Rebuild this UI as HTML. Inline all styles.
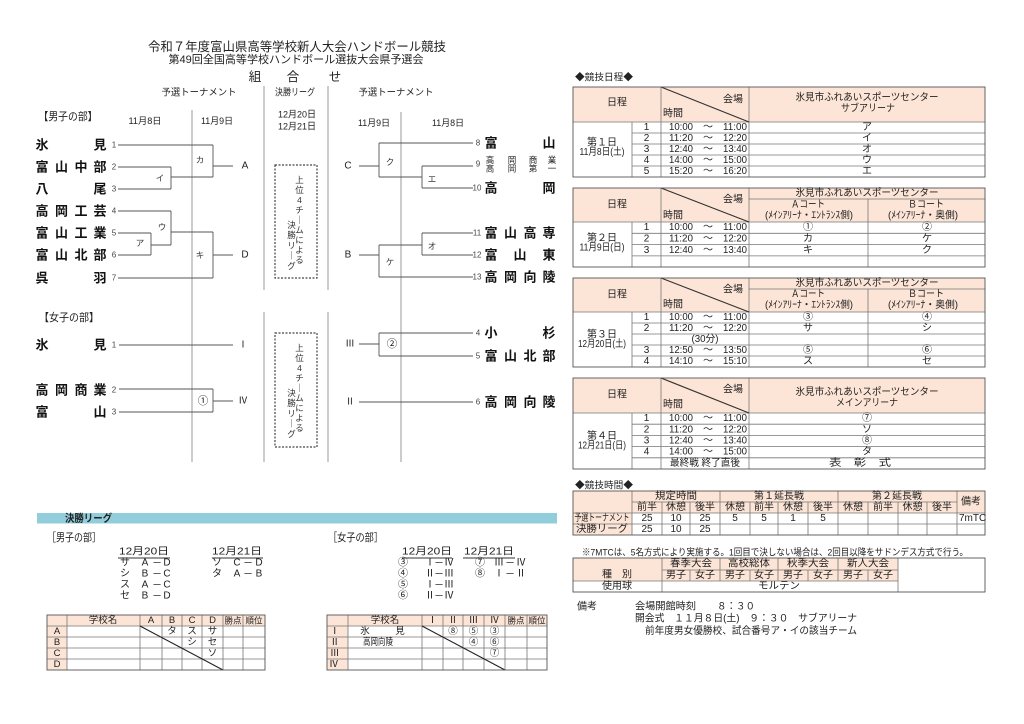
<!DOCTYPE html>
<html lang="ja">
<head>
<meta charset="utf-8">
<style>
html,body{margin:0;padding:0;background:#fff;}
svg{display:block;}
svg text{font-family:"Liberation Sans","Noto Sans CJK JP",sans-serif;text-anchor:middle;dominant-baseline:central;fill:#222;}
.s{text-anchor:start}
.e{text-anchor:end}
.b{font-weight:bold}
.tm text{font-size:13px;font-weight:bold;fill:#111}
.n text{font-size:8px;fill:#444}
.lb text{font-size:8.5px;fill:#333}
.br line{stroke:#555;stroke-width:0.9}
.vl line{stroke:#9a9a9a;stroke-width:1}
.tb text{font-size:10px}
.g line{stroke:#777;stroke-width:0.8}
.o{fill:none;stroke:#555;stroke-width:0.9}
.vt text{font-size:8.5px;fill:#333}
</style>
</head>
<body>
<svg width="1024" height="724" viewBox="0 0 1024 724" xmlns="http://www.w3.org/2000/svg">
<rect width="1024" height="724" fill="#fff"/>

<!-- Header -->
<text x="297" y="47" font-size="12.5" textLength="298" lengthAdjust="spacingAndGlyphs">令和７年度富山県高等学校新人大会ハンドボール競技</text>
<text x="296" y="60" font-size="11" textLength="255" lengthAdjust="spacingAndGlyphs">第49回全国高等学校ハンドボール選抜大会県予選会</text>
<text x="255" y="77" font-size="12.5">組</text>
<text x="293" y="77" font-size="12.5">合</text>
<text x="335" y="77" font-size="12.5">せ</text>
<text x="199" y="93" font-size="9.5" textLength="75" lengthAdjust="spacingAndGlyphs">予選トーナメント</text>
<text x="295" y="93" font-size="9.5" textLength="40" lengthAdjust="spacingAndGlyphs">決勝リーグ</text>
<text x="396" y="93" font-size="9.5" textLength="75" lengthAdjust="spacingAndGlyphs">予選トーナメント</text>

<!-- vertical separators -->
<g class="vl">
<line x1="264" y1="86" x2="264" y2="290"/>
<line x1="328" y1="86" x2="328" y2="290"/>
<line x1="264" y1="312" x2="264" y2="462"/>
<line x1="328" y1="312" x2="328" y2="462"/>
<line x1="192" y1="110" x2="192" y2="462"/>
<line x1="401" y1="112" x2="401" y2="462"/>
</g>

<!-- Men's labels -->
<text x="68" y="117" font-size="11" textLength="59" lengthAdjust="spacingAndGlyphs">【男子の部】</text>
<text x="145" y="121" font-size="9" textLength="33" lengthAdjust="spacingAndGlyphs">11月8日</text>
<text x="217" y="121" font-size="9" textLength="32" lengthAdjust="spacingAndGlyphs">11月9日</text>
<text x="297" y="115" font-size="9.5" textLength="38" lengthAdjust="spacingAndGlyphs">12月20日</text>
<text x="297" y="127" font-size="9.5" textLength="38" lengthAdjust="spacingAndGlyphs">12月21日</text>
<text x="374" y="123" font-size="9" textLength="32" lengthAdjust="spacingAndGlyphs">11月9日</text>
<text x="448" y="123" font-size="9" textLength="32" lengthAdjust="spacingAndGlyphs">11月8日</text>

<!-- Men's left teams -->
<g class="tm">
<text x="42" y="145">氷</text><text x="100" y="145">見</text>
<text x="42" y="167">富</text><text x="61.5" y="167">山</text><text x="81" y="167">中</text><text x="100" y="167">部</text>
<text x="42" y="189">八</text><text x="100" y="189">尾</text>
<text x="42" y="211">高</text><text x="61.5" y="211">岡</text><text x="81" y="211">工</text><text x="100" y="211">芸</text>
<text x="42" y="233">富</text><text x="61.5" y="233">山</text><text x="81" y="233">工</text><text x="100" y="233">業</text>
<text x="42" y="255">富</text><text x="61.5" y="255">山</text><text x="81" y="255">北</text><text x="100" y="255">部</text>
<text x="42" y="278">呉</text><text x="100" y="278">羽</text>
</g>
<g class="n">
<text x="114" y="145">1</text><text x="114" y="167">2</text><text x="114" y="189">3</text><text x="114" y="211">4</text>
<text x="114" y="233">5</text><text x="114" y="255">6</text><text x="114" y="278">7</text>
</g>
<g class="br">
<line x1="118" y1="145" x2="213" y2="145"/>
<line x1="118" y1="167" x2="171" y2="167"/>
<line x1="118" y1="189" x2="171" y2="189"/>
<line x1="171" y1="167" x2="171" y2="189"/>
<line x1="171" y1="177" x2="213" y2="177"/>
<line x1="213" y1="145" x2="213" y2="177"/>
<line x1="213" y1="166" x2="233" y2="166"/>
<line x1="118" y1="211" x2="171" y2="211"/>
<line x1="118" y1="233" x2="151" y2="233"/>
<line x1="118" y1="255" x2="151" y2="255"/>
<line x1="151" y1="233" x2="151" y2="255"/>
<line x1="151" y1="245" x2="171" y2="245"/>
<line x1="171" y1="211" x2="171" y2="245"/>
<line x1="171" y1="232" x2="213" y2="232"/>
<line x1="118" y1="278" x2="213" y2="278"/>
<line x1="213" y1="232" x2="213" y2="278"/>
<line x1="213" y1="255" x2="233" y2="255"/>
</g>
<g class="lb">
<text x="200" y="160">カ</text><text x="160" y="178">イ</text>
<text x="162" y="227">ウ</text><text x="140" y="243">ア</text><text x="200" y="255">キ</text>
</g>
<text x="245" y="166" font-size="10">A</text>
<text x="245" y="255" font-size="10">D</text>

<!-- Men's right -->
<g class="br">
<line x1="379" y1="143" x2="473" y2="143"/>
<line x1="422" y1="166" x2="473" y2="166"/>
<line x1="422" y1="188" x2="473" y2="188"/>
<line x1="422" y1="166" x2="422" y2="188"/>
<line x1="379" y1="177" x2="422" y2="177"/>
<line x1="379" y1="143" x2="379" y2="177"/>
<line x1="359" y1="166" x2="379" y2="166"/>
<line x1="422" y1="233" x2="473" y2="233"/>
<line x1="422" y1="255" x2="473" y2="255"/>
<line x1="422" y1="233" x2="422" y2="255"/>
<line x1="379" y1="245" x2="422" y2="245"/>
<line x1="379" y1="245" x2="379" y2="277"/>
<line x1="379" y1="277" x2="473" y2="277"/>
<line x1="359" y1="255" x2="379" y2="255"/>
</g>
<g class="lb">
<text x="390" y="162">ク</text><text x="432" y="179">エ</text>
<text x="432" y="246">オ</text><text x="390" y="262">ケ</text>
</g>
<text x="348" y="166" font-size="10">C</text>
<text x="348" y="255" font-size="10">B</text>
<g class="n">
<text x="478" y="143">8</text><text x="478" y="164">9</text><text x="477" y="188">10</text>
<text x="477" y="233">11</text><text x="477" y="255">12</text><text x="477" y="277">13</text>
</g>
<g class="tm">
<text x="491" y="143">富</text><text x="549" y="143">山</text>
<text x="491" y="188">高</text><text x="549" y="188">岡</text>
<text x="491" y="233">富</text><text x="510.5" y="233">山</text><text x="530" y="233">高</text><text x="549" y="233">専</text>
<text x="491" y="255">富</text><text x="520" y="255">山</text><text x="549" y="255">東</text>
<text x="491" y="277">高</text><text x="510.5" y="277">岡</text><text x="530" y="277">向</text><text x="549" y="277">陵</text>
</g>
<g font-size="8.5">
<text x="490" y="160">高</text><text x="512" y="160">岡</text><text x="533" y="160">商</text><text x="552" y="160">業</text>
<text x="490" y="168.5">高</text><text x="512" y="168.5">岡</text><text x="533" y="168.5">第</text><text x="552" y="168.5">一</text>
</g>

<!-- Dashed boxes -->
<rect x="275" y="165" width="42" height="113" fill="none" stroke="#444" stroke-width="1.2" stroke-dasharray="2,1.5"/>
<rect x="275" y="333" width="42" height="114" fill="none" stroke="#444" stroke-width="1.2" stroke-dasharray="2,1.5"/>
<g class="vt">
<text x="299.5" y="180">上</text><text x="299.5" y="190">位</text><text x="299.5" y="200">4</text><text x="299.5" y="210">チ</text><text x="299.5" y="220">｜</text><text x="299.5" y="230">ム</text><text x="299.5" y="240">に</text><text x="299.5" y="250">よ</text><text x="299.5" y="260">る</text>
<text x="291.5" y="225">決</text><text x="291.5" y="235">勝</text><text x="291.5" y="245.5">リ</text><text x="291.5" y="255.5">｜</text><text x="291.5" y="266">グ</text>
<text x="299.5" y="348">上</text><text x="299.5" y="358">位</text><text x="299.5" y="368">4</text><text x="299.5" y="378">チ</text><text x="299.5" y="388">｜</text><text x="299.5" y="398">ム</text><text x="299.5" y="408">に</text><text x="299.5" y="418">よ</text><text x="299.5" y="428">る</text>
<text x="291.5" y="393">決</text><text x="291.5" y="403">勝</text><text x="291.5" y="413.5">リ</text><text x="291.5" y="423.5">｜</text><text x="291.5" y="434">グ</text>
</g>

<!-- Women's -->
<text x="69" y="318" font-size="11" textLength="60" lengthAdjust="spacingAndGlyphs">【女子の部】</text>
<g class="tm">
<text x="42" y="345">氷</text><text x="100" y="345">見</text>
<text x="42" y="390">高</text><text x="61.5" y="390">岡</text><text x="81" y="390">商</text><text x="100" y="390">業</text>
<text x="42" y="412">富</text><text x="100" y="412">山</text>
<text x="491" y="333">小</text><text x="549" y="333">杉</text>
<text x="491" y="356">富</text><text x="510.5" y="356">山</text><text x="530" y="356">北</text><text x="549" y="356">部</text>
<text x="491" y="402">高</text><text x="510.5" y="402">岡</text><text x="530" y="402">向</text><text x="549" y="402">陵</text>
</g>
<g class="n">
<text x="114" y="345">1</text><text x="114" y="390">2</text><text x="114" y="412">3</text>
<text x="478" y="333">4</text><text x="478" y="356">5</text><text x="478" y="402">6</text>
</g>
<g class="br">
<line x1="119" y1="345" x2="233" y2="345"/>
<line x1="119" y1="389" x2="213" y2="389"/>
<line x1="119" y1="412" x2="213" y2="412"/>
<line x1="213" y1="389" x2="213" y2="412"/>
<line x1="213" y1="401" x2="233" y2="401"/>
<line x1="359" y1="344" x2="379" y2="344"/>
<line x1="379" y1="333" x2="379" y2="356"/>
<line x1="379" y1="333" x2="473" y2="333"/>
<line x1="379" y1="356" x2="473" y2="356"/>
<line x1="359" y1="402" x2="473" y2="402"/>
</g>
<text x="203" y="401" font-size="10.5">①</text>
<text x="392" y="344" font-size="10.5">②</text>
<text x="243" y="345" font-size="9.5">Ⅰ</text>
<text x="243" y="401" font-size="9.5">Ⅳ</text>
<text x="350" y="344" font-size="9.5">Ⅲ</text>
<text x="350" y="402" font-size="9.5">Ⅱ</text>

<!-- ===== Right side schedule ===== -->
<text class="s" x="575" y="78" font-size="9.5" textLength="58" lengthAdjust="spacingAndGlyphs">◆競技日程◆</text>

<!-- Table 1 -->
<rect x="573" y="87" width="412" height="35" fill="#fce4d6"/>
<g class="g">
<line x1="573" y1="122" x2="985" y2="122"/>
<line x1="661" y1="87" x2="661" y2="177"/>
<line x1="749" y1="87" x2="749" y2="177"/>
<line x1="632" y1="122" x2="632" y2="177"/>
<line x1="632" y1="133" x2="985" y2="133"/>
<line x1="632" y1="144" x2="985" y2="144"/>
<line x1="632" y1="155" x2="985" y2="155"/>
<line x1="632" y1="166" x2="985" y2="166"/>
</g>
<line x1="661" y1="87" x2="749" y2="122" stroke="#333" stroke-width="1.2"/>
<rect class="o" x="573" y="87" width="412" height="90"/>
<g class="tb">
<text x="617" y="103">日程</text>
<text x="733" y="100">会場</text>
<text class="s" x="663" y="114">時間</text>
<text x="867" y="98" textLength="143" lengthAdjust="spacingAndGlyphs">氷見市ふれあいスポーツセンター</text>
<text x="868" y="109" textLength="54" lengthAdjust="spacingAndGlyphs">サブアリーナ</text>
<text x="602" y="143" font-size="8.5">第１日</text>
<text x="602" y="152.5" font-size="9" textLength="45" lengthAdjust="spacingAndGlyphs">11月8日(土)</text>
<text x="646.5" y="127.5">1</text><text class="s" x="669" y="127.5" textLength="24" lengthAdjust="spacingAndGlyphs">10:00</text><text x="708" y="127.5" font-size="9">～</text><text class="e" x="747" y="127.5" textLength="24" lengthAdjust="spacingAndGlyphs">11:00</text><text x="867" y="127.5">ア</text>
<text x="646.5" y="138.5">2</text><text class="s" x="669" y="138.5" textLength="24" lengthAdjust="spacingAndGlyphs">11:20</text><text x="708" y="138.5" font-size="9">～</text><text class="e" x="747" y="138.5" textLength="24" lengthAdjust="spacingAndGlyphs">12:20</text><text x="867" y="138.5">イ</text>
<text x="646.5" y="149.5">3</text><text class="s" x="669" y="149.5" textLength="24" lengthAdjust="spacingAndGlyphs">12:40</text><text x="708" y="149.5" font-size="9">～</text><text class="e" x="747" y="149.5" textLength="24" lengthAdjust="spacingAndGlyphs">13:40</text><text x="867" y="149.5">オ</text>
<text x="646.5" y="160.5">4</text><text class="s" x="669" y="160.5" textLength="24" lengthAdjust="spacingAndGlyphs">14:00</text><text x="708" y="160.5" font-size="9">～</text><text class="e" x="747" y="160.5" textLength="24" lengthAdjust="spacingAndGlyphs">15:00</text><text x="867" y="160.5">ウ</text>
<text x="646.5" y="171.5">5</text><text class="s" x="669" y="171.5" textLength="24" lengthAdjust="spacingAndGlyphs">15:20</text><text x="708" y="171.5" font-size="9">～</text><text class="e" x="747" y="171.5" textLength="24" lengthAdjust="spacingAndGlyphs">16:20</text><text x="867" y="171.5">エ</text>
</g>

<!-- Table 2 -->
<rect x="573" y="188" width="412" height="34" fill="#fce4d6"/>
<g class="g">
<line x1="749" y1="199" x2="985" y2="199"/>
<line x1="573" y1="222" x2="985" y2="222"/>
<line x1="661" y1="188" x2="661" y2="267"/>
<line x1="749" y1="188" x2="749" y2="267"/>
<line x1="632" y1="222" x2="632" y2="267"/>
<line x1="868" y1="199" x2="868" y2="267"/>
<line x1="632" y1="233.3" x2="985" y2="233.3"/>
<line x1="632" y1="244.6" x2="985" y2="244.6"/>
<line x1="632" y1="255.9" x2="985" y2="255.9"/>
</g>
<line x1="661" y1="188" x2="749" y2="222" stroke="#333" stroke-width="1.2"/>
<rect class="o" x="573" y="188" width="412" height="79"/>
<g class="tb">
<text x="617" y="205">日程</text>
<text x="733" y="200">会場</text>
<text class="s" x="663" y="216">時間</text>
<text x="867" y="193.5" textLength="143" lengthAdjust="spacingAndGlyphs">氷見市ふれあいスポーツセンター</text>
<text x="808" y="205" textLength="34" lengthAdjust="spacingAndGlyphs">Ａコート</text>
<text x="809" y="216" font-size="7.5" textLength="88" lengthAdjust="spacingAndGlyphs">(ﾒｲﾝｱﾘｰﾅ・ｴﾝﾄﾗﾝｽ側)</text>
<text x="926" y="205" textLength="36" lengthAdjust="spacingAndGlyphs">Ｂコート</text>
<text x="923" y="216" font-size="7.5" textLength="70" lengthAdjust="spacingAndGlyphs">(ﾒｲﾝｱﾘｰﾅ・奥側)</text>
<text x="602" y="238.5" font-size="8.5">第２日</text>
<text x="602" y="248" font-size="9" textLength="45" lengthAdjust="spacingAndGlyphs">11月9日(日)</text>
<text x="646.5" y="227.6">1</text><text class="s" x="669" y="227.6" textLength="24" lengthAdjust="spacingAndGlyphs">10:00</text><text x="708" y="227.6" font-size="9">～</text><text class="e" x="747" y="227.6" textLength="24" lengthAdjust="spacingAndGlyphs">11:00</text><text x="808" y="227.6">①</text><text x="927" y="227.6">②</text>
<text x="646.5" y="239">2</text><text class="s" x="669" y="239" textLength="24" lengthAdjust="spacingAndGlyphs">11:20</text><text x="708" y="239" font-size="9">～</text><text class="e" x="747" y="239" textLength="24" lengthAdjust="spacingAndGlyphs">12:20</text><text x="808" y="239">カ</text><text x="927" y="239">ケ</text>
<text x="646.5" y="250.3">3</text><text class="s" x="669" y="250.3" textLength="24" lengthAdjust="spacingAndGlyphs">12:40</text><text x="708" y="250.3" font-size="9">～</text><text class="e" x="747" y="250.3" textLength="24" lengthAdjust="spacingAndGlyphs">13:40</text><text x="808" y="250.3">キ</text><text x="927" y="250.3">ク</text>
</g>

<!-- Table 3 -->
<rect x="573" y="278" width="412" height="34" fill="#fce4d6"/>
<g class="g">
<line x1="749" y1="289" x2="985" y2="289"/>
<line x1="573" y1="312" x2="985" y2="312"/>
<line x1="661" y1="278" x2="661" y2="367"/>
<line x1="749" y1="278" x2="749" y2="367"/>
<line x1="632" y1="312" x2="632" y2="367"/>
<line x1="868" y1="289" x2="868" y2="367"/>
<line x1="632" y1="323" x2="985" y2="323"/>
<line x1="632" y1="334" x2="985" y2="334"/>
<line x1="632" y1="345" x2="985" y2="345"/>
<line x1="632" y1="356" x2="985" y2="356"/>
</g>
<line x1="661" y1="278" x2="749" y2="312" stroke="#333" stroke-width="1.2"/>
<rect class="o" x="573" y="278" width="412" height="89"/>
<g class="tb">
<text x="617" y="295">日程</text>
<text x="733" y="290">会場</text>
<text class="s" x="663" y="305">時間</text>
<text x="867" y="283.5" textLength="143" lengthAdjust="spacingAndGlyphs">氷見市ふれあいスポーツセンター</text>
<text x="808" y="294.5" textLength="34" lengthAdjust="spacingAndGlyphs">Ａコート</text>
<text x="809" y="305.5" font-size="7.5" textLength="88" lengthAdjust="spacingAndGlyphs">(ﾒｲﾝｱﾘｰﾅ・ｴﾝﾄﾗﾝｽ側)</text>
<text x="926" y="294.5" textLength="36" lengthAdjust="spacingAndGlyphs">Ｂコート</text>
<text x="923" y="305.5" font-size="7.5" textLength="70" lengthAdjust="spacingAndGlyphs">(ﾒｲﾝｱﾘｰﾅ・奥側)</text>
<text x="602" y="335" font-size="8.5">第３日</text>
<text x="602" y="344.5" font-size="9" textLength="48" lengthAdjust="spacingAndGlyphs">12月20日(土)</text>
<text x="646.5" y="317.5">1</text><text class="s" x="669" y="317.5" textLength="24" lengthAdjust="spacingAndGlyphs">10:00</text><text x="708" y="317.5" font-size="9">～</text><text class="e" x="747" y="317.5" textLength="24" lengthAdjust="spacingAndGlyphs">11:00</text><text x="808" y="317.5">③</text><text x="927" y="317.5">④</text>
<text x="646.5" y="328.5">2</text><text class="s" x="669" y="328.5" textLength="24" lengthAdjust="spacingAndGlyphs">11:20</text><text x="708" y="328.5" font-size="9">～</text><text class="e" x="747" y="328.5" textLength="24" lengthAdjust="spacingAndGlyphs">12:20</text><text x="808" y="328.5">サ</text><text x="927" y="328.5">シ</text>
<text x="705" y="339.5" textLength="27" lengthAdjust="spacingAndGlyphs">(30分)</text>
<text x="646.5" y="350.5">3</text><text class="s" x="669" y="350.5" textLength="24" lengthAdjust="spacingAndGlyphs">12:50</text><text x="708" y="350.5" font-size="9">～</text><text class="e" x="747" y="350.5" textLength="24" lengthAdjust="spacingAndGlyphs">13:50</text><text x="808" y="350.5">⑤</text><text x="927" y="350.5">⑥</text>
<text x="646.5" y="361.5">4</text><text class="s" x="669" y="361.5" textLength="24" lengthAdjust="spacingAndGlyphs">14:10</text><text x="708" y="361.5" font-size="9">～</text><text class="e" x="747" y="361.5" textLength="24" lengthAdjust="spacingAndGlyphs">15:10</text><text x="808" y="361.5">ス</text><text x="927" y="361.5">セ</text>
</g>

<!-- Table 4 -->
<rect x="573" y="378" width="412" height="35" fill="#fce4d6"/>
<g class="g">
<line x1="573" y1="413" x2="985" y2="413"/>
<line x1="661" y1="378" x2="661" y2="469"/>
<line x1="749" y1="378" x2="749" y2="469"/>
<line x1="632" y1="413" x2="632" y2="469"/>
<line x1="632" y1="424.2" x2="985" y2="424.2"/>
<line x1="632" y1="435.4" x2="985" y2="435.4"/>
<line x1="632" y1="446.6" x2="985" y2="446.6"/>
<line x1="632" y1="457.8" x2="985" y2="457.8"/>
</g>
<line x1="661" y1="378" x2="749" y2="413" stroke="#333" stroke-width="1.2"/>
<rect class="o" x="573" y="378" width="412" height="91"/>
<g class="tb">
<text x="617" y="395">日程</text>
<text x="733" y="390">会場</text>
<text class="s" x="663" y="405">時間</text>
<text x="867" y="392.5" textLength="143" lengthAdjust="spacingAndGlyphs">氷見市ふれあいスポーツセンター</text>
<text x="867" y="403.5" textLength="62" lengthAdjust="spacingAndGlyphs">メインアリーナ</text>
<text x="602" y="436.5" font-size="8.5">第４日</text>
<text x="602" y="446" font-size="9" textLength="48" lengthAdjust="spacingAndGlyphs">12月21日(日)</text>
<text x="646.5" y="418.6">1</text><text class="s" x="669" y="418.6" textLength="24" lengthAdjust="spacingAndGlyphs">10:00</text><text x="708" y="418.6" font-size="9">～</text><text class="e" x="747" y="418.6" textLength="24" lengthAdjust="spacingAndGlyphs">11:00</text><text x="867" y="418.6">⑦</text>
<text x="646.5" y="429.8">2</text><text class="s" x="669" y="429.8" textLength="24" lengthAdjust="spacingAndGlyphs">11:20</text><text x="708" y="429.8" font-size="9">～</text><text class="e" x="747" y="429.8" textLength="24" lengthAdjust="spacingAndGlyphs">12:20</text><text x="867" y="429.8">ソ</text>
<text x="646.5" y="441">3</text><text class="s" x="669" y="441" textLength="24" lengthAdjust="spacingAndGlyphs">12:40</text><text x="708" y="441" font-size="9">～</text><text class="e" x="747" y="441" textLength="24" lengthAdjust="spacingAndGlyphs">13:40</text><text x="867" y="441">⑧</text>
<text x="646.5" y="452.2">4</text><text class="s" x="669" y="452.2" textLength="24" lengthAdjust="spacingAndGlyphs">14:00</text><text x="708" y="452.2" font-size="9">～</text><text class="e" x="747" y="452.2" textLength="24" lengthAdjust="spacingAndGlyphs">15:00</text><text x="867" y="452.2">タ</text>
<text x="705" y="463.4" textLength="70" lengthAdjust="spacingAndGlyphs">最終戦 終了直後</text>
<text x="860" y="463.4" textLength="62" lengthAdjust="spacingAndGlyphs">表　彰　式</text>
</g>

<!-- 競技時間 -->
<text class="s" x="575" y="486" font-size="9.5" textLength="58" lengthAdjust="spacingAndGlyphs">◆競技時間◆</text>
<rect x="573" y="491" width="412" height="22" fill="#fce4d6"/>
<rect x="573" y="513" width="59" height="22" fill="#fce4d6"/>
<g class="g">
<line x1="632" y1="502" x2="957" y2="502"/>
<line x1="573" y1="513" x2="985" y2="513"/>
<line x1="573" y1="524" x2="985" y2="524"/>
<line x1="632" y1="491" x2="632" y2="535"/>
<line x1="720" y1="491" x2="720" y2="535"/>
<line x1="838" y1="491" x2="838" y2="535"/>
<line x1="957" y1="491" x2="957" y2="535"/>
<line x1="662" y1="502" x2="662" y2="535"/>
<line x1="690" y1="502" x2="690" y2="535"/>
<line x1="750" y1="502" x2="750" y2="535"/>
<line x1="778" y1="502" x2="778" y2="535"/>
<line x1="808" y1="502" x2="808" y2="535"/>
<line x1="868" y1="502" x2="868" y2="535"/>
<line x1="898" y1="502" x2="898" y2="535"/>
<line x1="927" y1="502" x2="927" y2="535"/>
</g>
<rect class="o" x="573" y="491" width="412" height="44"/>
<g class="tb">
<text x="676" y="496.5" textLength="42" lengthAdjust="spacingAndGlyphs">規定時間</text>
<text x="779" y="496.5" textLength="50" lengthAdjust="spacingAndGlyphs">第１延長戦</text>
<text x="897" y="496.5" textLength="50" lengthAdjust="spacingAndGlyphs">第２延長戦</text>
<text x="971" y="502" font-size="8">備考</text>
<text x="647" y="507.5">前半</text><text x="676" y="507.5">休憩</text><text x="705" y="507.5">後半</text>
<text x="735" y="507.5">休憩</text><text x="764" y="507.5">前半</text><text x="793" y="507.5">休憩</text><text x="823" y="507.5">後半</text>
<text x="853" y="507.5">休憩</text><text x="883" y="507.5">前半</text><text x="912.5" y="507.5">休憩</text><text x="942" y="507.5">後半</text>
<text x="602" y="518.5" font-size="7" textLength="55" lengthAdjust="spacingAndGlyphs">予選トーナメント</text>
<text x="647" y="518.5">25</text><text x="676" y="518.5">10</text><text x="705" y="518.5">25</text>
<text x="735" y="518.5">5</text><text x="764" y="518.5">5</text><text x="793" y="518.5">1</text><text x="823" y="518.5">5</text>
<text class="s" x="959" y="518.5" font-size="7">7mTC</text>
<text x="602" y="529.5" font-size="11" textLength="52" lengthAdjust="spacingAndGlyphs">決勝リーグ</text>
<text x="647" y="529.5">25</text><text x="676" y="529.5">10</text><text x="705" y="529.5">25</text>
</g>

<text class="s" x="582" y="553" font-size="9.5" textLength="386" lengthAdjust="spacingAndGlyphs">※7MTCは、5名方式により実施する。1回目で決しない場合は、2回目以降をサドンデス方式で行う。</text>

<!-- 種別 table -->
<rect x="573" y="558" width="325" height="23" fill="#fce4d6"/>
<g class="g">
<line x1="662" y1="570" x2="898" y2="570"/>
<line x1="573" y1="581" x2="898" y2="581"/>
<line x1="662" y1="558" x2="662" y2="592"/>
<line x1="720" y1="558" x2="720" y2="581"/>
<line x1="778" y1="558" x2="778" y2="581"/>
<line x1="838" y1="558" x2="838" y2="581"/>
<line x1="898" y1="558" x2="898" y2="592"/>
<line x1="690" y1="570" x2="690" y2="581"/>
<line x1="750" y1="570" x2="750" y2="581"/>
<line x1="808" y1="570" x2="808" y2="581"/>
<line x1="868" y1="570" x2="868" y2="581"/>
</g>
<rect class="o" x="573" y="558" width="412" height="34"/>
<g class="tb">
<text x="617" y="575">種　別</text>
<text x="691" y="564" textLength="42" lengthAdjust="spacingAndGlyphs">春季大会</text>
<text x="749" y="564" textLength="42" lengthAdjust="spacingAndGlyphs">高校総体</text>
<text x="808" y="564" textLength="42" lengthAdjust="spacingAndGlyphs">秋季大会</text>
<text x="868" y="564" textLength="42" lengthAdjust="spacingAndGlyphs">新人大会</text>
<text x="676" y="575.5">男子</text><text x="705" y="575.5">女子</text>
<text x="735" y="575.5">男子</text><text x="764" y="575.5">女子</text>
<text x="793" y="575.5">男子</text><text x="823" y="575.5">女子</text>
<text x="853" y="575.5">男子</text><text x="883" y="575.5">女子</text>
<text x="617" y="586.5">使用球</text>
<text x="779" y="586.5" textLength="42" lengthAdjust="spacingAndGlyphs">モルテン</text>
</g>

<!-- 備考 -->
<g font-size="10">
<text class="s" x="577" y="607">備考</text>
<text class="s" x="635" y="607" textLength="61" lengthAdjust="spacingAndGlyphs">会場開館時刻</text>
<text class="s" x="717" y="607" textLength="38" lengthAdjust="spacingAndGlyphs">８：３０</text>
<text class="s" x="635" y="619" textLength="222" lengthAdjust="spacingAndGlyphs">開会式　１１月８日(土)　９：３０　サブアリーナ</text>
<text class="s" x="645" y="631.5" textLength="212" lengthAdjust="spacingAndGlyphs">前年度男女優勝校、試合番号ア・イの該当チーム</text>
</g>

<!-- ===== Bottom-left league ===== -->
<rect x="37" y="513" width="520" height="10.5" fill="#92cddc"/>
<text class="s b" x="65" y="518.3" font-size="10.5" textLength="47" lengthAdjust="spacingAndGlyphs">決勝リーグ</text>

<text class="s" x="47" y="538" font-size="11" textLength="54" lengthAdjust="spacingAndGlyphs">［男子の部］</text>
<text class="s" x="328" y="538" font-size="11" textLength="55" lengthAdjust="spacingAndGlyphs">［女子の部］</text>

<g font-size="10">
<text x="144" y="552" textLength="50" lengthAdjust="spacingAndGlyphs">12月20日</text>
<text x="237" y="552" textLength="50" lengthAdjust="spacingAndGlyphs">12月21日</text>
<text x="427" y="552" textLength="50" lengthAdjust="spacingAndGlyphs">12月20日</text>
<text x="489" y="552" textLength="50" lengthAdjust="spacingAndGlyphs">12月21日</text>
</g>
<g stroke="#333" stroke-width="0.9">
<line x1="118" y1="558" x2="170" y2="558"/>
<line x1="212" y1="558" x2="263" y2="558"/>
<line x1="402" y1="558" x2="452" y2="558"/>
<line x1="463" y1="558" x2="515" y2="558"/>
</g>
<g font-size="10">
<text x="125" y="563">サ</text><text x="145" y="563">A</text><text x="157" y="563">─</text><text x="167" y="563">D</text>
<text x="125" y="574">シ</text><text x="145" y="574">B</text><text x="157" y="574">─</text><text x="167" y="574">C</text>
<text x="125" y="585">ス</text><text x="145" y="585">A</text><text x="157" y="585">─</text><text x="167" y="585">C</text>
<text x="125" y="596">セ</text><text x="145" y="596">B</text><text x="157" y="596">─</text><text x="167" y="596">D</text>
<text x="217" y="563">ソ</text><text x="237" y="563">C</text><text x="248" y="563">─</text><text x="259" y="563">D</text>
<text x="217" y="574">タ</text><text x="237" y="574">A</text><text x="248" y="574">─</text><text x="259" y="574">B</text>

<text x="403" y="563">③</text><text x="430" y="563">Ⅰ</text><text x="439" y="563">─</text><text x="449" y="563">Ⅳ</text>
<text x="403" y="574">④</text><text x="430" y="574">Ⅱ</text><text x="439" y="574">─</text><text x="449" y="574">Ⅲ</text>
<text x="403" y="585">⑤</text><text x="430" y="585">Ⅰ</text><text x="439" y="585">─</text><text x="449" y="585">Ⅲ</text>
<text x="403" y="596">⑥</text><text x="430" y="596">Ⅱ</text><text x="439" y="596">─</text><text x="449" y="596">Ⅳ</text>
<text x="480" y="563">⑦</text><text x="499" y="563">Ⅲ</text><text x="510" y="563">─</text><text x="521" y="563">Ⅳ</text>
<text x="480" y="574">⑧</text><text x="499" y="574">Ⅰ</text><text x="510" y="574">─</text><text x="521" y="574">Ⅱ</text>
</g>

<!-- Men's league table -->
<rect x="47" y="615" width="218" height="11" fill="#fce4d6"/>
<rect x="47" y="626" width="20" height="44" fill="#fce4d6"/>
<g class="g">
<line x1="47" y1="626" x2="265" y2="626"/>
<line x1="47" y1="637" x2="265" y2="637"/>
<line x1="47" y1="648" x2="265" y2="648"/>
<line x1="47" y1="659" x2="265" y2="659"/>
<line x1="67" y1="615" x2="67" y2="670"/>
<line x1="140" y1="615" x2="140" y2="670"/>
<line x1="162" y1="615" x2="162" y2="670"/>
<line x1="182" y1="615" x2="182" y2="670"/>
<line x1="202" y1="615" x2="202" y2="670"/>
<line x1="223" y1="615" x2="223" y2="670"/>
<line x1="243" y1="615" x2="243" y2="670"/>
</g>
<line x1="140" y1="626" x2="223" y2="670" stroke="#222" stroke-width="1.1"/>
<rect class="o" x="47" y="615" width="218" height="55"/>
<g font-size="9.5">
<text x="103" y="620.5">学校名</text>
<text x="151" y="620.5">A</text><text x="172" y="620.5">B</text><text x="192" y="620.5">C</text><text x="212.5" y="620.5">D</text>
<text x="233" y="620.5" font-size="8.5">勝点</text><text x="254" y="620.5" font-size="8.5">順位</text>
<text x="57" y="631.5">A</text><text x="57" y="642.5">B</text><text x="57" y="653.5">C</text><text x="57" y="664.5">D</text>
<text x="172" y="631.5">タ</text><text x="192" y="631.5">ス</text><text x="212.5" y="631.5">サ</text>
<text x="192" y="642.5">シ</text><text x="212.5" y="642.5">セ</text>
<text x="212.5" y="653.5">ソ</text>
</g>

<!-- Women's league table -->
<rect x="327" y="615" width="220" height="11" fill="#fce4d6"/>
<rect x="327" y="626" width="21" height="44" fill="#fce4d6"/>
<g class="g">
<line x1="327" y1="626" x2="547" y2="626"/>
<line x1="327" y1="637" x2="547" y2="637"/>
<line x1="327" y1="648" x2="547" y2="648"/>
<line x1="327" y1="659" x2="547" y2="659"/>
<line x1="348" y1="615" x2="348" y2="670"/>
<line x1="422" y1="615" x2="422" y2="670"/>
<line x1="443" y1="615" x2="443" y2="670"/>
<line x1="463" y1="615" x2="463" y2="670"/>
<line x1="484" y1="615" x2="484" y2="670"/>
<line x1="505" y1="615" x2="505" y2="670"/>
<line x1="527" y1="615" x2="527" y2="670"/>
</g>
<line x1="422" y1="626" x2="505" y2="670" stroke="#222" stroke-width="1.1"/>
<rect class="o" x="327" y="615" width="220" height="55"/>
<g font-size="9.5">
<text x="385" y="620.5">学校名</text>
<text x="432.5" y="620.5">Ⅰ</text><text x="453" y="620.5">Ⅱ</text><text x="473.5" y="620.5">Ⅲ</text><text x="494.5" y="620.5">Ⅳ</text>
<text x="516" y="620.5" font-size="8.5">勝点</text><text x="537" y="620.5" font-size="8.5">順位</text>
<text class="s" x="330" y="631.5">Ⅰ</text><text class="s" x="330" y="642.5">Ⅱ</text><text class="s" x="330" y="653.5">Ⅲ</text><text class="s" x="329" y="664.5">Ⅳ</text>
<text x="365" y="631.5">氷</text><text x="400" y="631.5">見</text>
<text x="378" y="642.5" textLength="30" lengthAdjust="spacingAndGlyphs">高岡向陵</text>
<text x="453" y="631.5">⑧</text><text x="473.5" y="631.5">⑤</text><text x="494.5" y="631.5">③</text>
<text x="473.5" y="642.5">④</text><text x="494.5" y="642.5">⑥</text>
<text x="494.5" y="653.5">⑦</text>
</g>
</svg>
</body>
</html>
